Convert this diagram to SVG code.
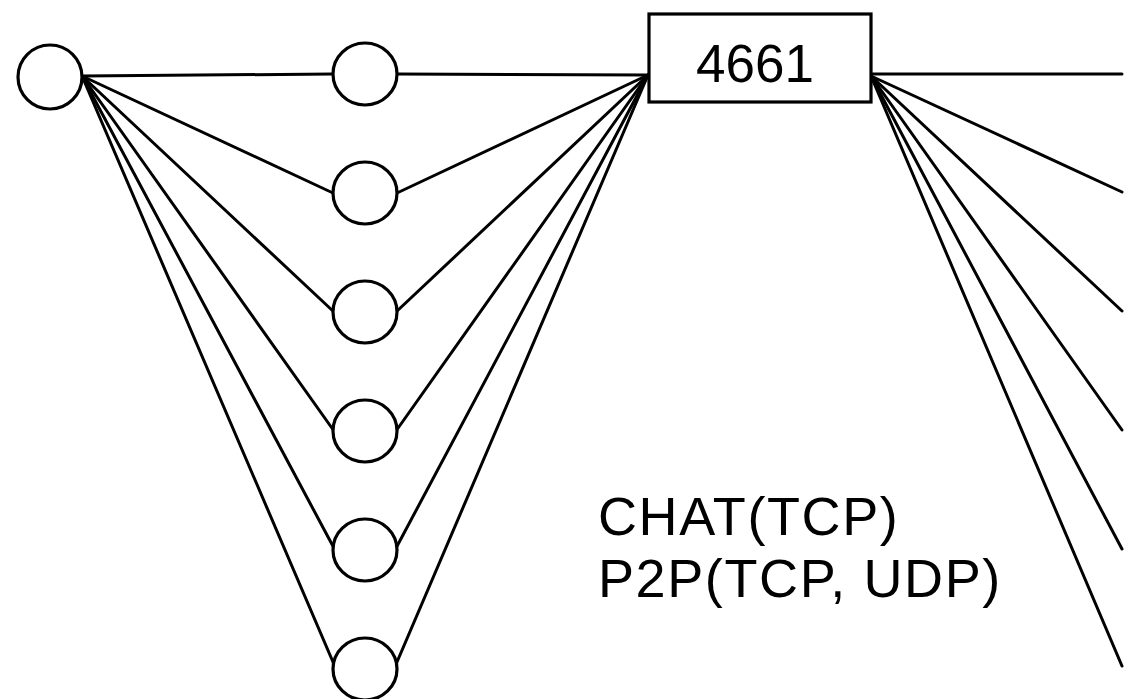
<svg xmlns="http://www.w3.org/2000/svg" width="1133" height="699" viewBox="0 0 1133 699">
<style>
.n{fill:#fff;stroke:#000;stroke-width:3.2}
.e{stroke:#000;stroke-width:3;fill:none;stroke-linecap:round}
.t{font-family:"Liberation Sans",Arial,sans-serif;font-size:53px;fill:#000}
.l{letter-spacing:1.6px;font-size:54px}
</style>
<rect width="1133" height="699" fill="#fff"/>
<g id="connectors" class="e">
<line x1="82" y1="76" x2="333" y2="74"/>
<line x1="82" y1="76" x2="333" y2="193"/>
<line x1="82" y1="76" x2="334" y2="312"/>
<line x1="82" y1="76" x2="334" y2="431"/>
<line x1="82" y1="76" x2="335" y2="550"/>
<line x1="82" y1="76" x2="336" y2="669"/>
<line x1="397" y1="74" x2="648" y2="75"/>
<line x1="397" y1="193" x2="648" y2="75"/>
<line x1="396" y1="312" x2="648" y2="75"/>
<line x1="396" y1="431" x2="648" y2="75"/>
<line x1="395" y1="550" x2="648" y2="75"/>
<line x1="394" y1="669" x2="648" y2="75"/>
<line x1="871" y1="74" x2="1122" y2="74"/>
<line x1="871" y1="76" x2="1122" y2="192"/>
<line x1="871" y1="76" x2="1122" y2="311"/>
<line x1="871" y1="76" x2="1122" y2="430"/>
<line x1="871" y1="76" x2="1122" y2="549"/>
<line x1="871" y1="76" x2="1122" y2="666"/>
</g>
<g id="n0"><ellipse class="n" cx="50" cy="77" rx="32" ry="32"/></g>
<g id="n1"><ellipse class="n" cx="365" cy="74" rx="32" ry="31"/></g>
<g id="n2"><ellipse class="n" cx="365" cy="193" rx="32" ry="31"/></g>
<g id="n3"><ellipse class="n" cx="365" cy="312" rx="32" ry="31"/></g>
<g id="n4"><ellipse class="n" cx="365" cy="431" rx="32" ry="31"/></g>
<g id="n5"><ellipse class="n" cx="365" cy="550" rx="32" ry="31"/></g>
<g id="n6"><ellipse class="n" cx="365" cy="669" rx="32" ry="31"/></g>
<g id="port"><rect class="n" x="649" y="14" width="222" height="88"/><text class="t" x="755" y="82" text-anchor="middle">4661</text></g>
<g id="label"><text class="t l" x="598" y="535">CHAT(TCP)</text><text class="t l" x="598" y="597">P2P(TCP, UDP)</text></g>
</svg>
